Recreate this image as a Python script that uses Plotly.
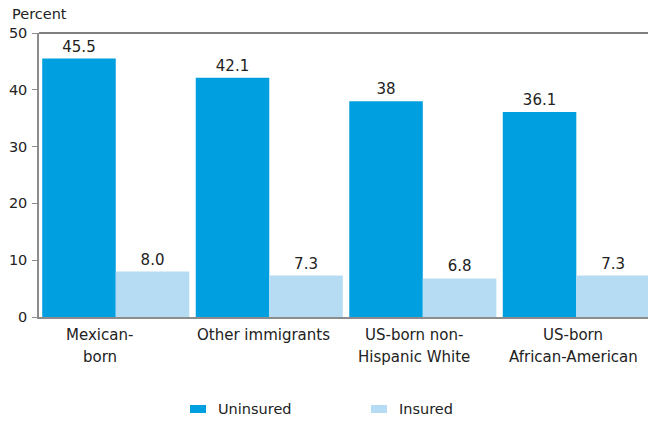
import plotly.graph_objects as go

categories = ["Mexican-born", "Other immigrants", "US-born non-Hispanic White", "US-born African-American"]
category_label_lines = [["Mexican-", "born"], ["Other immigrants"], ["US-born non-", "Hispanic White"],
                        ["US-born", "African-American"]]
uninsured = [45.5, 42.1, 38.0, 36.1]
insured = [8.0, 7.3, 6.8, 7.3]
uninsured_labels = ["45.5", "42.1", "38", "36.1"]
insured_labels = ["8.0", "7.3", "6.8", "7.3"]
y_ticks = [0, 10, 20, 30, 40, 50]
series_names = ["Uninsured", "Insured"]
series_colors = ["#009FE0", "#B5DCF3"]

FONT = "DejaVu Sans"
TXT = "#222222"

# plot-area geometry (pixels) used for converting placement to paper coords
L, T, W, H = 39, 33, 609, 284
def px(x):
    return (x - L) / W
def py(y):
    return (T + H - y) / H

fig = go.Figure()
for name, vals, labels, color in [(series_names[0], uninsured, uninsured_labels, series_colors[0]),
                                  (series_names[1], insured, insured_labels, series_colors[1])]:
    fig.add_trace(go.Bar(x=categories, y=vals, name=name, marker_color=color,
                         marker_line_width=0,
                         text=labels, textposition="outside", cliponaxis=False,
                         textfont=dict(size=15, color=TXT, family=FONT)))

shapes = [dict(type="line", xref="paper", yref="paper", x0=0, x1=1, y0=1, y1=1,
               line=dict(color="#555555", width=1.5))]
annotations = [dict(text="Percent", xref="paper", yref="paper", x=px(10), y=py(14),
                    xanchor="left", yanchor="middle", showarrow=False,
                    font=dict(size=14.5, color=TXT, family=FONT))]

# category labels (placed on the category axis, with small horizontal nudges as in the original)
label_xshift = [-16, -6, -9, -3]
line_y = [335, 357]
for cat, lines, dx in zip(categories, category_label_lines, label_xshift):
    for i, line in enumerate(lines):
        annotations.append(dict(text=line, xref="x", yref="paper", x=cat, y=py(line_y[i]),
                                xshift=dx, xanchor="center", yanchor="middle", showarrow=False,
                                font=dict(size=15, color=TXT, family=FONT)))

# custom legend
legend_marker_x = [190, 371]
legend_text_x = [216, 397]
for mx, tx, name, color in zip(legend_marker_x, legend_text_x, series_names, series_colors):
    shapes.append(dict(type="rect", xref="paper", yref="paper",
                       x0=px(mx), x1=px(mx + 16), y0=py(413), y1=py(405),
                       fillcolor=color, line=dict(width=0)))
    annotations.append(dict(text=name, xref="paper", yref="paper", x=px(tx), y=py(409),
                            xanchor="left", yanchor="middle", showarrow=False,
                            font=dict(size=14.5, color=TXT, family=FONT)))

fig.update_layout(
    width=648, height=421,
    margin=dict(l=39, r=0, t=33, b=104, autoexpand=False),
    barmode="group", bargap=0.042, bargroupgap=0,
    plot_bgcolor="white", paper_bgcolor="white",
    font=dict(family=FONT, size=15, color=TXT),
    showlegend=False,
    shapes=shapes,
    annotations=annotations,
)
fig.update_xaxes(range=[-0.5, 3.467], showline=True, linecolor="#8c8c8c", linewidth=1.5,
                 ticks="", showticklabels=False)
fig.update_yaxes(range=[0, 50], tickvals=y_ticks, showgrid=False, zeroline=False,
                 showline=True, linecolor="#8c8c8c", linewidth=1.5,
                 ticks="outside", ticklen=5, tickcolor="#8c8c8c", ticklabelstandoff=2,
                 tickfont=dict(size=14.5, color=TXT))

fig.write_html("out.html", config={"displayModeBar": False},
               post_script="document.body.style.margin='0';document.body.style.overflow='hidden';")
